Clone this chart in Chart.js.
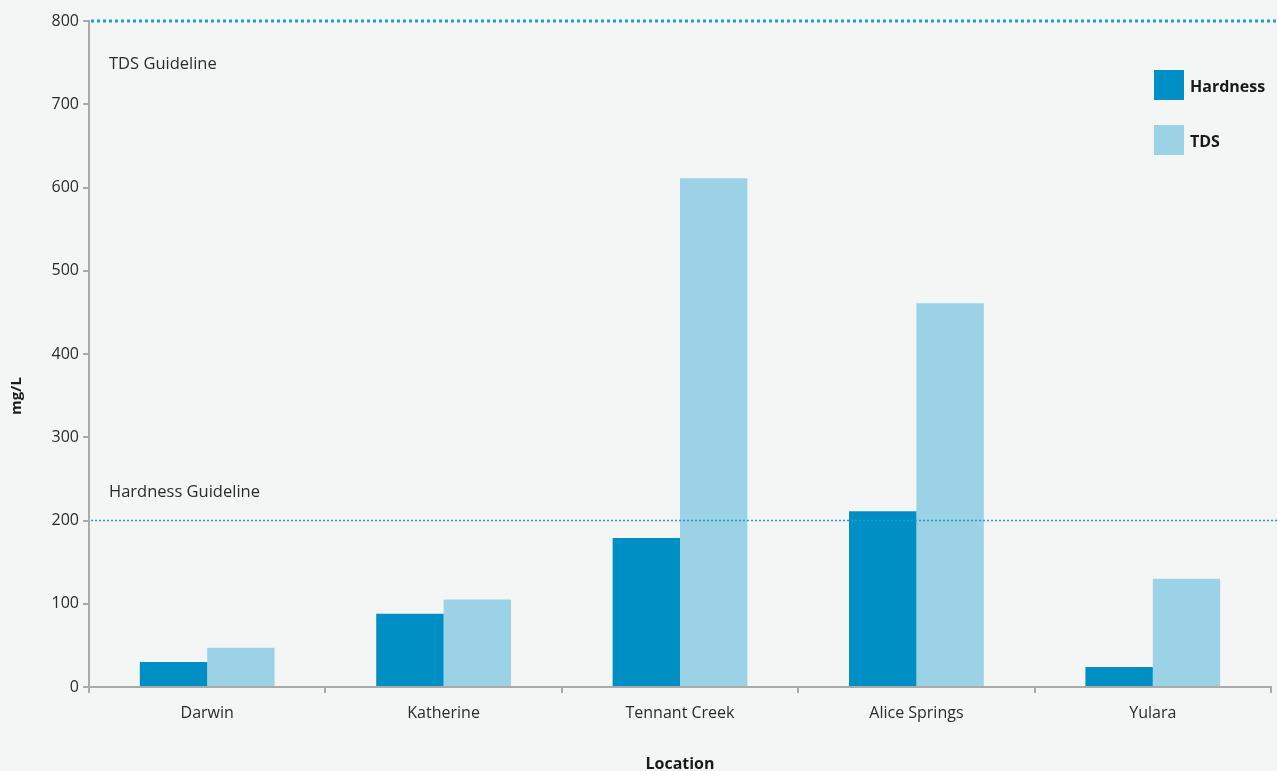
<!DOCTYPE html>
<html lang="en">
  <head>
    <meta charset="UTF-8" />
    <title>Hardness and TDS by Location</title>
    <script src="https://cdn.jsdelivr.net/npm/chart.js@4/dist/chart.umd.min.js"></script>
    <style>
      html,
      body {
        margin: 0;
        padding: 0;
        background: #f4f6f6;
      }
      .chart-container {
        position: relative;
        width: 1277px;
        height: 771px;
      }
    </style>
  </head>
  <body>
    <div class="chart-container">
      <canvas id="waterChart"></canvas>
    </div>

    <script>
      const locations = ['Darwin', 'Katherine', 'Tennant Creek', 'Alice Springs', 'Yulara']
      const hardness = [30, 88, 179, 211, 24]
      const tds = [47, 105, 611, 461, 130]
      const yTicks = [0, 100, 200, 300, 400, 500, 600, 700, 800]

      // guideline levels (mg/L)
      const tdsGuideline = 800
      const hardnessGuideline = 200

      const FONT = "'Open Sans', 'Noto Sans', sans-serif"
      const DARK = '#008fc4'
      const LIGHT = '#9bd2e6'
      const AXIS = '#a9abab'

      // dotted guideline lines, their labels, the y title and the legend squares
      const overlay = {
        id: 'overlay',
        afterDatasetsDraw(chart) {
          const { ctx, chartArea, scales } = chart
          ctx.save()
          ctx.strokeStyle = '#1a9fd0'

          const yTds = scales.y.getPixelForValue(tdsGuideline)
          ctx.lineWidth = 3
          ctx.setLineDash([3, 3])
          ctx.beginPath()
          ctx.moveTo(chartArea.left + 2, yTds)
          ctx.lineTo(chartArea.right + 6, yTds)
          ctx.stroke()

          const yHard = scales.y.getPixelForValue(hardnessGuideline)
          ctx.lineWidth = 1.5
          ctx.setLineDash([2, 2])
          ctx.beginPath()
          ctx.moveTo(chartArea.left + 2, yHard)
          ctx.lineTo(chartArea.right + 6, yHard)
          ctx.stroke()
          ctx.setLineDash([])

          ctx.fillStyle = '#2b2b2b'
          ctx.font = '400 16.5px ' + FONT
          ctx.textBaseline = 'middle'
          ctx.textAlign = 'left'
          ctx.fillText('TDS Guideline', chartArea.left + 20, yTds + 43)
          ctx.fillText('Hardness Guideline', chartArea.left + 20, yHard - 28)

          // y axis title
          ctx.save()
          ctx.translate(17, 396)
          ctx.rotate(-Math.PI / 2)
          ctx.textAlign = 'center'
          ctx.fillStyle = '#1a1a1a'
          ctx.font = 'bold 15px ' + FONT
          ctx.fillText('mg/L', 0, 0)
          ctx.restore()

          // legend
          const items = [
            { label: chart.data.datasets[0].label, color: DARK, y: 70 },
            { label: chart.data.datasets[1].label, color: LIGHT, y: 125 }
          ]
          ctx.font = 'bold 16px ' + FONT
          items.forEach(item => {
            ctx.fillStyle = item.color
            ctx.fillRect(1154, item.y, 30, 30)
            ctx.fillStyle = '#1a1a1a'
            ctx.fillText(item.label, 1190, item.y + 17)
          })
          ctx.restore()
        }
      }

      const ctx = document.getElementById('waterChart').getContext('2d')
      new Chart(ctx, {
        type: 'bar',
        data: {
          labels: locations,
          datasets: [
            {
              label: 'Hardness',
              data: hardness,
              backgroundColor: DARK,
              barPercentage: 1,
              categoryPercentage: 0.57
            },
            {
              label: 'TDS',
              data: tds,
              backgroundColor: LIGHT,
              barPercentage: 1,
              categoryPercentage: 0.57
            }
          ]
        },
        options: {
          responsive: true,
          maintainAspectRatio: false,
          animation: false,
          layout: { padding: { top: 21, right: 6, left: 0, bottom: 0 } },
          plugins: {
            legend: { display: false },
            tooltip: { enabled: false }
          },
          scales: {
            x: {
              border: { color: AXIS, width: 2 },
              grid: {
                offset: true,
                drawOnChartArea: false,
                color: AXIS,
                lineWidth: 2,
                tickLength: 6
              },
              ticks: {
                color: '#2b2b2b',
                font: { family: FONT, size: 16, weight: '400' },
                padding: 11
              },
              title: {
                display: true,
                text: 'Location',
                color: '#1a1a1a',
                font: { family: FONT, size: 16, weight: 'bold' },
                padding: { top: 27, bottom: -3 }
              },
              afterFit(scale) {
                scale.height = 84
              }
            },
            y: {
              min: 0,
              max: 800,
              afterBuildTicks(scale) {
                scale.ticks = yTicks.map(v => ({ value: v }))
              },
              border: { color: AXIS, width: 2 },
              grid: {
                drawOnChartArea: false,
                color: AXIS,
                lineWidth: 2,
                tickLength: 6
              },
              ticks: {
                color: '#2b2b2b',
                font: { family: FONT, size: 16, weight: '400' },
                padding: 4
              },
              afterFit(scale) {
                scale.width = 89
              }
            }
          }
        },
        plugins: [overlay]
      })
    </script>
  </body>
</html>
